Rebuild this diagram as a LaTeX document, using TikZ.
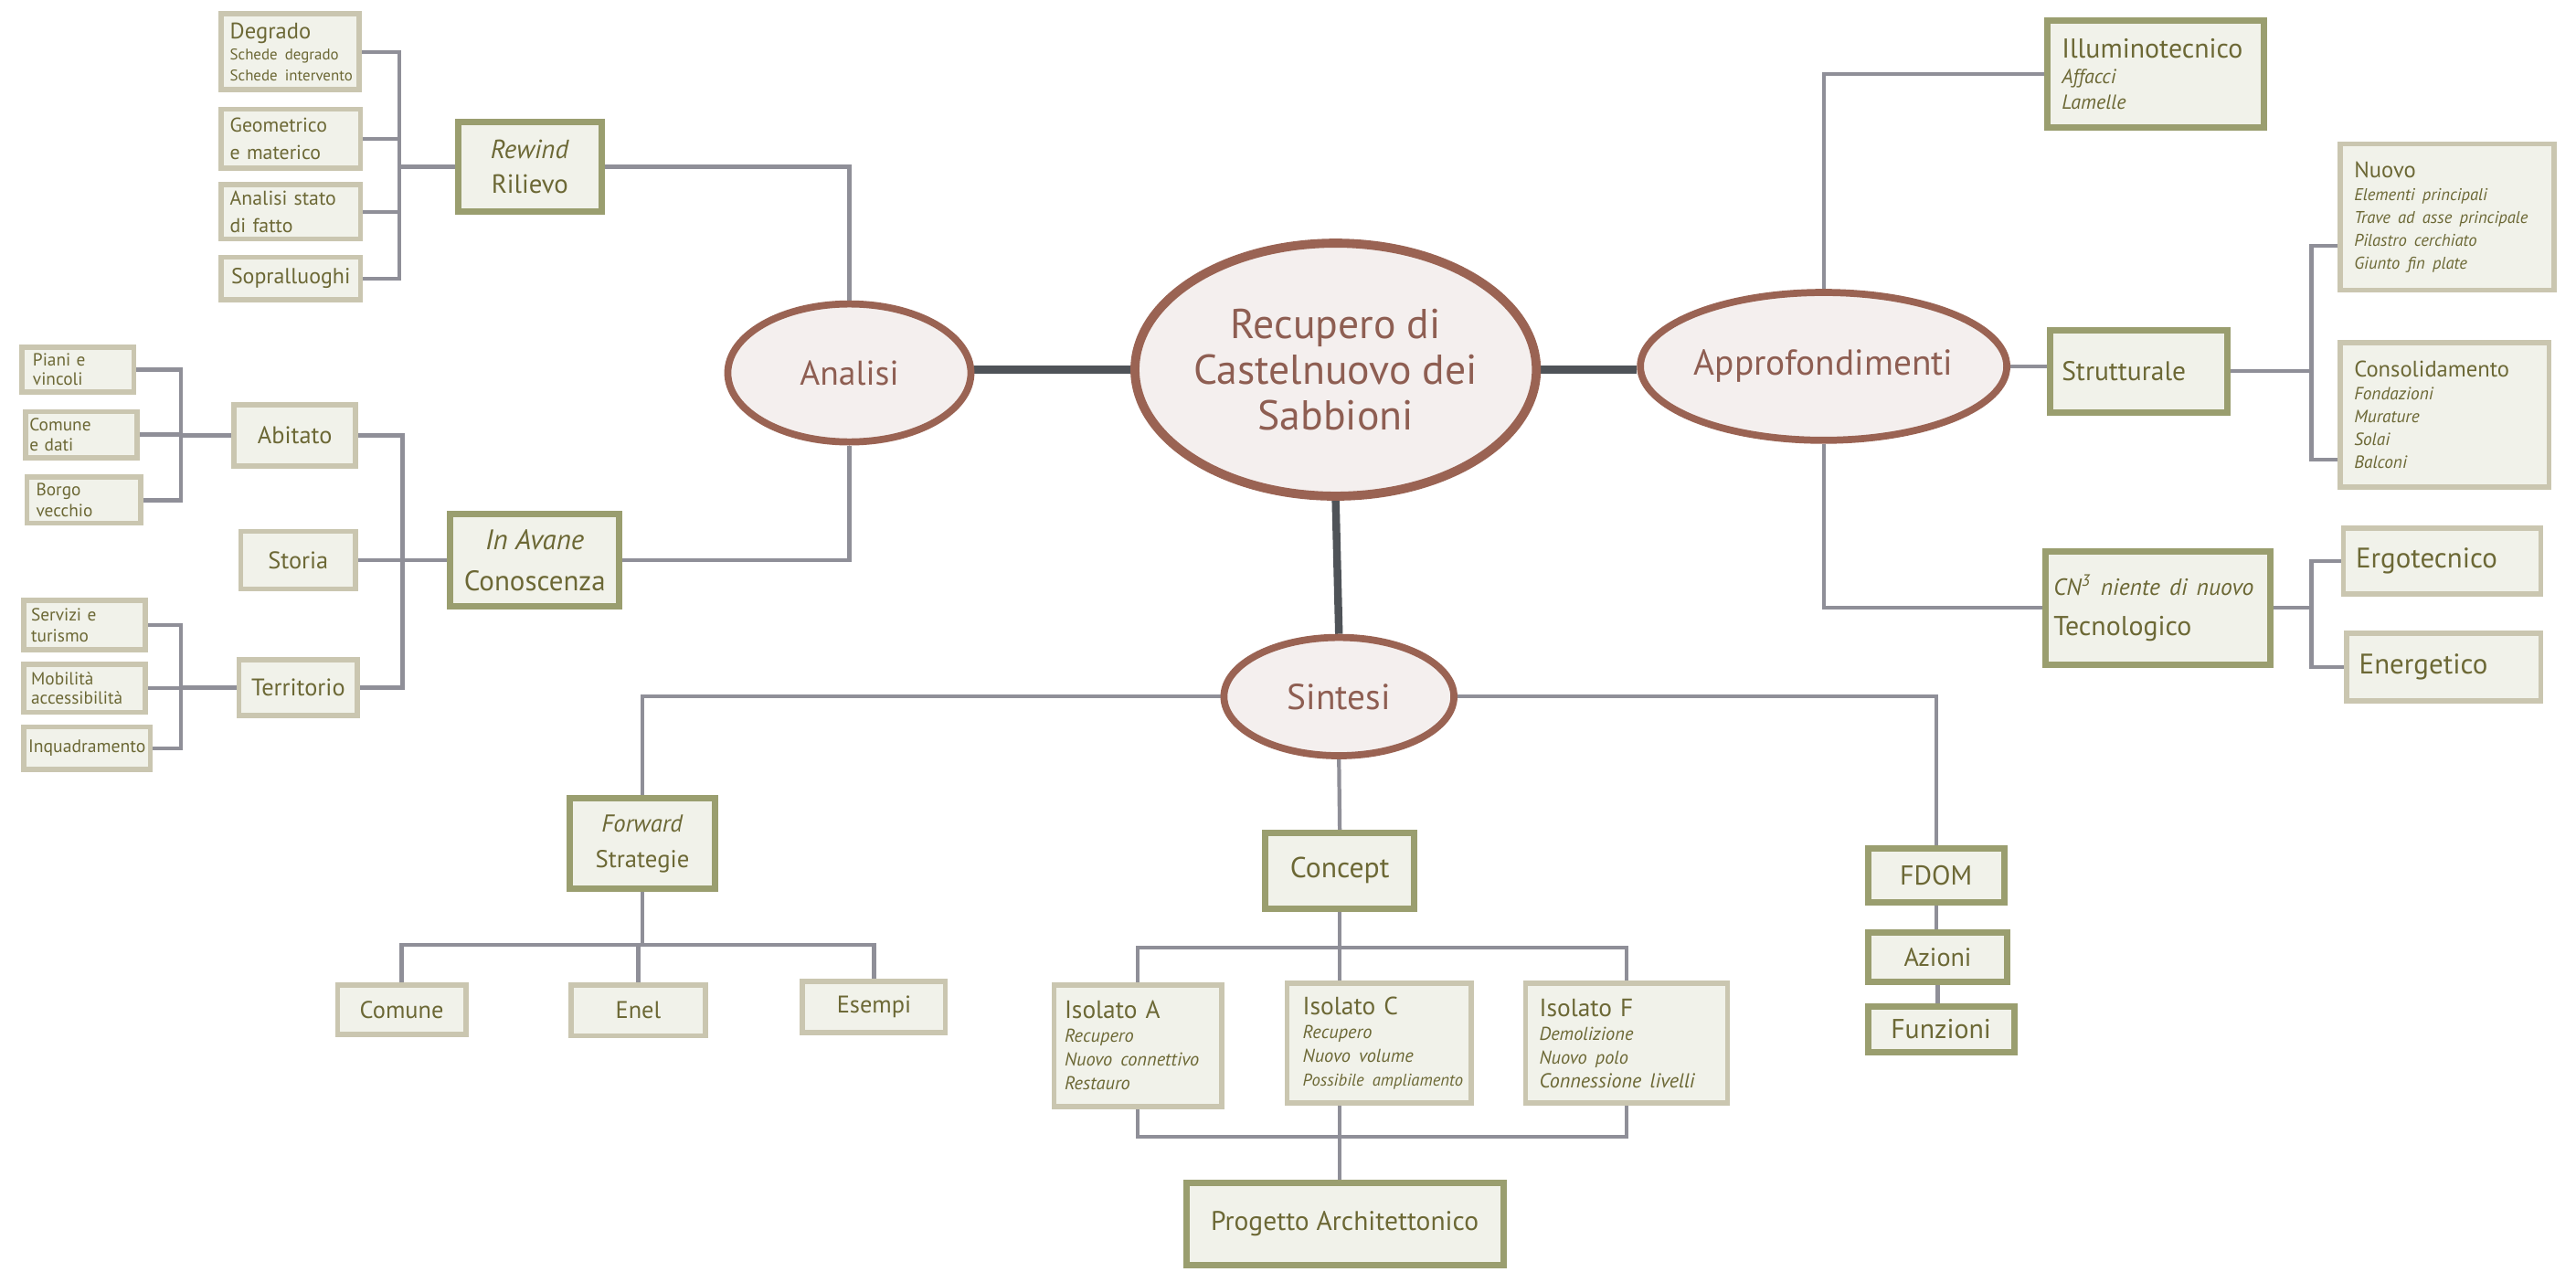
\documentclass[tikz,border=0pt]{standalone}
\usepackage{fontspec}
\setmainfont{PT Sans}
\usepackage{tikz}
\usetikzlibrary{backgrounds,shapes.geometric}

\definecolor{paper}{HTML}{FFFFFF}
\definecolor{boxfill}{HTML}{F1F2EA}
\definecolor{mainedge}{HTML}{9A9E6F}
\definecolor{subedge}{HTML}{CAC6B0}
\definecolor{bubbleedge}{HTML}{9A6353}
\definecolor{bubblefill}{HTML}{F4EFEE}
\definecolor{bubbletext}{HTML}{8E5E52}
\definecolor{olivetext}{HTML}{6C6835}
\definecolor{linkgray}{HTML}{8F8F98}
\definecolor{trunkgray}{HTML}{4F5358}

\newcommand{\pxu}{0.01798cm}
\newcommand{\detail}[2][5.8]{\mbox{\fontsize{#1}{#1}\selectfont\itshape #2}}
\newcommand{\minor}[2][5]{\mbox{\fontsize{#1}{#1}\selectfont #2}}

\begin{document}
\begin{tikzpicture}[x=\pxu, y=-\pxu,
  every node/.style={inner sep=0pt, text=olivetext},
  sz/.style 2 args={minimum width=#1*\pxu, minimum height=#2*\pxu},
  tw/.code={\pgfmathsetlengthmacro\boxtw{#1*\pxu}\tikzset{text width/.expanded=\boxtw}},
  bubble/.style={ellipse, draw=bubbleedge, fill=bubblefill, line width=2.2pt, text=bubbletext, align=center, font=\fontsize{11.2}{13}\selectfont},
  mainbox/.style={rectangle, draw=mainedge, fill=boxfill, line width=2pt, align=center, font=\fontsize{8.5}{11}\selectfont},
  subbox/.style={rectangle, draw=subedge, fill=boxfill, line width=1.6pt, align=center, font=\fontsize{7.5}{8.5}\selectfont},
  link/.style={draw=linkgray, line width=1.2pt},
  trunk/.style={draw=trunkgray, line width=2.4pt}]
\useasboundingbox (0,0) rectangle (1568,774);

% centre and the three branches
\node[bubble, sz={236}{154}, line width=2.8pt, font=\fontsize{13}{14.3}\selectfont] (recupero) at (813,225) {Recupero di\\Castelnuovo dei\\Sabbioni};
\node[bubble, sz={148}{84}, font=\fontsize{10.7}{13}\selectfont] (analisi) at (517,227) {Analisi};
\node[bubble, sz={176}{90}] (approf) at (1110,223) {Approfondimenti};
\node[bubble, sz={140}{72}] (sintesi) at (815,424) {Sintesi};

% Analisi
\node[mainbox, sz={87}{55}, font=\fontsize{8.2}{10.7}\selectfont] (rewind) at (322.5,101.5) {\textit{Rewind}\\Rilievo};
\node[mainbox, sz={103}{56}, font=\fontsize{8.8}{12.7}\selectfont] (conoscenza) at (325.5,341) {\textit{In Avane}\\Conoscenza};
\node[subbox, sz={84}{46}, align=left, tw=73, font=\fontsize{7}{6.6}\selectfont] (degrado) at (176.5,31.5) {Degrado\\\minor[4.8]{Schede degrado}\\\minor[4.8]{Schede intervento}};
\node[subbox, sz={85}{36}, align=left, tw=74, font=\fontsize{6.2}{8.7}\selectfont] (geometrico) at (177,84.5) {Geometrico\\e materico};
\node[subbox, sz={85}{33}, align=left, tw=74, font=\fontsize{6.2}{8.7}\selectfont] (statofatto) at (177,129) {Analisi stato\\di fatto};
\node[subbox, sz={85}{26}, font=\fontsize{6.8}{8}\selectfont] (sopralluoghi) at (177,169.5) {Sopralluoghi};
\node[subbox, sz={74}{37}] (abitato) at (179.5,265) {Abitato};
\node[subbox, sz={70}{35}] (storia) at (181.5,341) {Storia};
\node[subbox, sz={72}{34}] (territorio) at (181.5,418.5) {Territorio};
\node[subbox, sz={68}{27}, align=left, tw=55, font=\fontsize{5.5}{6}\selectfont] (piani) at (47.5,225) {Piani e\\vincoli};
\node[subbox, sz={68}{28}, align=left, tw=63, font=\fontsize{5.5}{6.1}\selectfont] (comunedati) at (49.5,264.5) {Comune\\e dati};
\node[subbox, sz={69}{28}, align=left, tw=58, font=\fontsize{5.5}{6.6}\selectfont] (borgo) at (51,304.5) {Borgo\\vecchio};
\node[subbox, sz={74}{30}, align=left, tw=65, font=\fontsize{5.5}{6.6}\selectfont] (servizi) at (51.5,380.5) {Servizi e\\turismo};
\node[subbox, sz={74}{29}, align=left, tw=65, font=\fontsize{5.5}{6.1}\selectfont] (mobilita) at (51.5,419) {Mobilità\\accessibilità};
\node[subbox, sz={77}{26}, font=\fontsize{5.6}{7}\selectfont] (inquadramento) at (53,455.5) {Inquadramento};

% Approfondimenti
\node[mainbox, sz={132}{65}, align=left, tw=114, font=\fontsize{8.5}{7.9}\selectfont] (illumino) at (1312,45) {Illuminotecnico\\\detail[6.3]{Affacci}\\\detail[6.3]{Lamelle}};
\node[mainbox, sz={108}{50}, align=left, tw=94, font=\fontsize{8.4}{10}\selectfont] (strutturale) at (1302,226) {Strutturale};
\node[mainbox, sz={137}{69}, align=left, tw=127, font=\fontsize{8.5}{12.5}\selectfont] (cn3) at (1313.5,370) {\detail[7.3]{CN\textsuperscript{3} niente di nuovo}\\Tecnologico};
\node[subbox, sz={130}{89}, align=left, tw=113, font=\fontsize{7}{7.1}\selectfont] (nuovo) at (1489.5,132) {Nuovo\\\detail[5.3]{Elementi principali}\\\detail[5.3]{Trave ad asse principale}\\\detail[5.3]{Pilastro cerchiato}\\\detail[5.3]{Giunto fin plate}};
\node[subbox, sz={127}{88}, align=left, tw=110, font=\fontsize{7}{7.1}\selectfont] (consolidamento) at (1488,252.5) {Consolidamento\\\detail[5.5]{Fondazioni}\\\detail[5.5]{Murature}\\\detail[5.5]{Solai}\\\detail[5.5]{Balconi}};
\node[subbox, sz={120}{40}, align=left, tw=105, font=\fontsize{8.8}{10}\selectfont] (ergotecnico) at (1486.5,341.5) {Ergotecnico};
\node[subbox, sz={118}{41}, align=left, tw=103, font=\fontsize{8.8}{10}\selectfont] (energetico) at (1487.5,406) {Energetico};

% Sintesi
\node[mainbox, sz={88}{55}, font=\fontsize{7.6}{11.2}\selectfont] (forward) at (391,513.5) {\textit{Forward}\\Strategie};
\node[subbox, sz={78}{30}] (comune) at (244.5,614.5) {Comune};
\node[subbox, sz={82}{31}] (enel) at (388.5,615) {Enel};
\node[subbox, sz={87}{31}] (esempi) at (532,613) {Esempi};
\node[mainbox, sz={91}{46}, font=\fontsize{9}{11}\selectfont] (concept) at (815.5,530) {Concept};
\node[subbox, sz={102}{74}, align=left, tw=89, font=\fontsize{7.8}{7.4}\selectfont] (isolatoA) at (692.5,636.5) {Isolato A\\\detail{Recupero}\\\detail{Nuovo connettivo}\\\detail{Restauro}};
\node[subbox, sz={112}{73}, align=left, tw=93, font=\fontsize{7.8}{7.4}\selectfont] (isolatoC) at (839.5,635) {Isolato C\\\detail{Recupero}\\\detail{Nuovo volume}\\\detail[5.3]{Possibile ampliamento}};
\node[subbox, sz={123}{73}, align=left, tw=106, font=\fontsize{7.8}{7.4}\selectfont] (isolatoF) at (990,635) {Isolato F\\\detail{Demolizione}\\\detail{Nuovo polo}\\\detail[6.3]{Connessione livelli}};
\node[mainbox, sz={193}{50}, font=\fontsize{8.4}{10}\selectfont] (progetto) at (818.5,745) {Progetto Architettonico};
\node[mainbox, sz={83}{33}, anchor=west] (fdom) at (1135,533) {FDOM};
\node[mainbox, sz={85}{30}, anchor=west, font=\fontsize{8}{10}\selectfont] (azioni) at (1135,582.5) {Azioni};
\node[mainbox, sz={89}{28}, anchor=west] (funzioni) at (1135,626.5) {Funzioni};

\begin{scope}[on background layer]
\fill[paper] (0,0) rectangle (1568,774);
\draw[trunk] (recupero.west) -- (analisi.east |- recupero.west);
\draw[trunk] (recupero.east) -- (approf.west |- recupero.east);
\draw[trunk] (recupero.south) -- (sintesi.north);

\draw[link] (rewind.east) -| (analisi.north);
\draw[link] (conoscenza.east) -| (analisi.south);
\coordinate (rilbus) at (243,0);
\foreach \n in {degrado,geometrico,statofatto,sopralluoghi}
  \draw[link] (\n.east) -- (\n.east -| rilbus) |- (rewind.west);
\coordinate (conbus) at (245,0);
\foreach \n in {abitato,storia,territorio}
  \draw[link] (\n.east) -- (\n.east -| conbus) |- (conoscenza.west);
\coordinate (abbus) at (110,0);
\foreach \n in {piani,comunedati,borgo}
  \draw[link] (\n.east) -- (\n.east -| abbus) |- (abitato.west);
\foreach \n in {servizi,mobilita,inquadramento}
  \draw[link] (\n.east) -- (\n.east -| abbus) |- (territorio.west);

\draw[link] (approf.north) |- (illumino.west);
\draw[link] (approf.east) -- (approf.east -| strutturale.west);
\draw[link] (approf.south) |- (cn3.west);
\coordinate (rbus) at (1407,0);
\draw[link] (strutturale.east) -- (strutturale.east -| rbus) |- ([yshift=-9pt]nuovo.west);
\draw[link] (strutturale.east -| rbus) |- ([yshift=-14pt]consolidamento.west);
\foreach \n in {ergotecnico,energetico}
  \draw[link] (cn3.east) -- (cn3.east -| rbus) |- (\n.west);

\draw[link] (sintesi.west) -| (forward.north);
\draw[link] (sintesi.east) -| (fdom.north);
\draw[link] (sintesi.south) -- (concept.north);
\coordinate (fbus) at (0,575);
\foreach \n in {comune,enel,esempi}
  \draw[link] (forward.south) -- (forward.south |- fbus) -| (\n.north);
\coordinate (cbus) at (0,577);
\foreach \n in {isolatoA,isolatoF}
  \draw[link] (concept.south) -- (concept.south |- cbus) -| (\n.north);
\draw[link] (concept.south) -- (concept.south |- isolatoC.north);
\coordinate (pbus) at (0,692);
\draw[link] (isolatoA.south) -- (isolatoA.south |- pbus) -| (isolatoF.south);
\draw[link] (concept.south |- isolatoC.south) -- (concept.south |- progetto.north);
\draw[link] (fdom.south) -- (fdom.south |- azioni.north);
\draw[link] (azioni.south) -- (azioni.south |- funzioni.north);
\end{scope}
\end{tikzpicture}
\end{document}
